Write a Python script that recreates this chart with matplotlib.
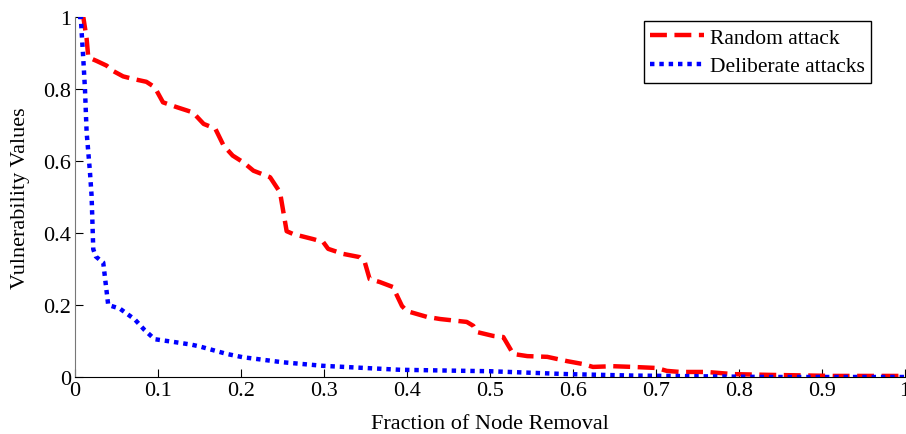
import matplotlib
matplotlib.use('Agg')
import matplotlib.pyplot as plt
from matplotlib.ticker import FuncFormatter

# Random attack curve
random_x = [0.006, 0.010, 0.014, 0.016, 0.026, 0.038, 0.046, 0.058, 0.070, 0.086, 0.096,
            0.106, 0.122, 0.142, 0.155, 0.169, 0.179, 0.190, 0.203, 0.215, 0.235, 0.247,
            0.255, 0.263, 0.287, 0.299, 0.305, 0.323, 0.343, 0.349, 0.355, 0.367, 0.383,
            0.394, 0.400, 0.424, 0.440, 0.472, 0.480, 0.484, 0.504, 0.516, 0.528, 0.545,
            0.569, 0.593, 0.612, 0.624, 0.648, 0.672, 0.701, 0.713, 0.729, 0.761, 0.793,
            0.834, 0.913, 1.000]
random_y = [1.000, 1.000, 0.940, 0.888, 0.878, 0.865, 0.850, 0.835, 0.828, 0.820, 0.805,
            0.763, 0.750, 0.735, 0.703, 0.690, 0.643, 0.615, 0.596, 0.573, 0.555, 0.513,
            0.405, 0.397, 0.383, 0.375, 0.356, 0.342, 0.333, 0.320, 0.272, 0.264, 0.250,
            0.197, 0.183, 0.167, 0.161, 0.153, 0.142, 0.125, 0.114, 0.111, 0.064, 0.058,
            0.056, 0.044, 0.036, 0.028, 0.030, 0.028, 0.025, 0.017, 0.014, 0.014, 0.008,
            0.006, 0.003, 0.003]

# Deliberate attacks curve
delib_x = [0.004, 0.007, 0.008, 0.010, 0.012, 0.014, 0.018, 0.020, 0.022, 0.025, 0.030,
           0.034, 0.040, 0.054, 0.072, 0.084, 0.096, 0.120, 0.140, 0.150, 0.183, 0.202,
           0.250, 0.299, 0.392, 0.500, 0.593, 0.672, 0.753, 0.834, 1.000]
delib_y = [1.000, 1.000, 0.958, 0.883, 0.800, 0.680, 0.570, 0.503, 0.355, 0.335, 0.325,
           0.318, 0.200, 0.190, 0.160, 0.130, 0.105, 0.097, 0.090, 0.085, 0.064, 0.055,
           0.041, 0.031, 0.020, 0.016, 0.008, 0.004, 0.002, 0.000, 0.000]

x_ticks = [0, 0.1, 0.2, 0.3, 0.4, 0.5, 0.6, 0.7, 0.8, 0.9, 1.0]
y_ticks = [0, 0.2, 0.4, 0.6, 0.8, 1.0]


def _fmt(v, pos):
    return '{:g}'.format(round(v, 2))


def main():
    plt.rcParams['font.family'] = ['Liberation Serif', 'DejaVu Serif']
    fig = plt.figure(figsize=(9.06, 4.35), dpi=100)
    ax = fig.add_axes([75 / 906, 57 / 435, 830 / 906, 360 / 435])

    ax.plot(random_x, random_y, color='red', lw=3.2, linestyle=(0, (3.8, 1.7)),
            dash_capstyle='butt', label='Random attack')
    ax.plot(delib_x, delib_y, color='blue', lw=3.2, linestyle=(0, (1, 1.1)),
            dash_capstyle='butt', label='Deliberate attacks')

    ax.set_xlim(0, 1)
    ax.set_ylim(0, 1)
    ax.set_xticks(x_ticks)
    ax.set_yticks(y_ticks)
    ax.xaxis.set_major_formatter(FuncFormatter(_fmt))
    ax.yaxis.set_major_formatter(FuncFormatter(_fmt))
    ax.tick_params(direction='in', length=6, labelsize=16, pad=3)
    for side in ('top', 'right'):
        ax.spines[side].set_visible(False)
    ax.spines['left'].set_color('#777777')
    ax.spines['bottom'].set_color('black')

    ax.set_xlabel('Fraction of Node Removal', fontsize=16, labelpad=10)
    ax.set_ylabel('Vulnerability Values', fontsize=16, labelpad=9)

    leg = ax.legend(loc='upper right', bbox_to_anchor=((871 - 75) / 830, (378 - 22) / 360),
                    borderaxespad=0, fontsize=15.5, handlelength=2.5, handletextpad=0.25,
                    borderpad=0.3, labelspacing=0.4, fancybox=False, framealpha=1)
    leg.get_frame().set_edgecolor('black')
    leg.get_frame().set_linewidth(1.0)

    fig.savefig('out.png', dpi=100)


if __name__ == '__main__':
    main()
